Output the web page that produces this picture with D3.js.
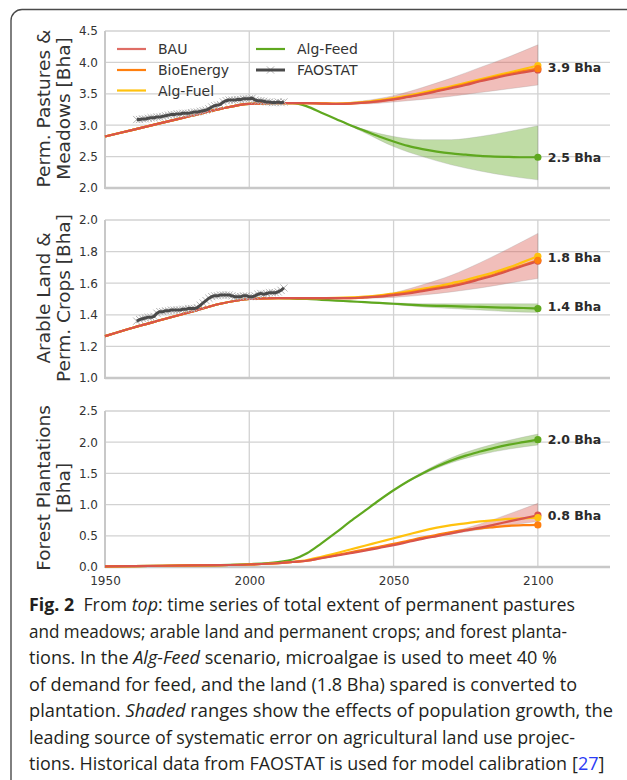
<!DOCTYPE html>
<html><head><meta charset="utf-8">
<script src="https://cdn.jsdelivr.net/npm/d3@7/dist/d3.min.js"></script>
<style>body{margin:0;background:#fff}svg{display:block}</style>
</head><body>
<svg id="c" width="627" height="780"></svg>
<script>
// ---------------- DATA ----------------
const modelYears = [1950,1960,1970,1980,1990,2000,2010,2015,2020,2025,2030,2035,2040,2045,2050,2055,2060,2065,2070,2075,2080,2085,2090,2095,2100];
const bandYears = [2030,2040,2050,2060,2070,2080,2090,2100];
const faoYears = d3.range(1961, 2013);

// Panel 1: permanent pastures & meadows
const p1BAU   = [2.82,2.93,3.04,3.15,3.26,3.34,3.35,3.35,3.35,3.345,3.34,3.345,3.36,3.38,3.41,3.45,3.49,3.54,3.59,3.64,3.70,3.75,3.80,3.84,3.88];
const p1Bio   = [2.82,2.93,3.04,3.15,3.26,3.34,3.35,3.35,3.35,3.345,3.34,3.345,3.36,3.385,3.415,3.455,3.50,3.55,3.60,3.655,3.71,3.765,3.815,3.86,3.90];
const p1Fuel  = [2.82,2.93,3.04,3.15,3.26,3.34,3.35,3.35,3.35,3.35,3.345,3.35,3.37,3.40,3.43,3.47,3.52,3.57,3.62,3.675,3.73,3.785,3.84,3.895,3.95];
const p1Feed  = [2.82,2.93,3.04,3.15,3.26,3.34,3.35,3.35,3.30,3.20,3.10,3.00,2.91,2.82,2.74,2.67,2.62,2.58,2.55,2.53,2.51,2.50,2.495,2.49,2.49];
const p1BauHi = [3.345,3.39,3.47,3.60,3.75,3.92,4.09,4.28];
const p1BauLo = [3.34,3.34,3.37,3.41,3.46,3.52,3.58,3.64];
const p1FeedHi = [3.10,2.93,2.82,2.77,2.77,2.82,2.90,2.99];
const p1FeedLo = [3.10,2.88,2.66,2.50,2.37,2.27,2.19,2.13];
const p1Fao = [3.09,3.09,3.10,3.10,3.11,3.12,3.12,3.13,3.13,3.14,3.15,3.16,3.17,3.17,3.18,3.18,3.19,3.19,3.19,3.20,3.21,3.21,3.22,3.23,3.24,3.26,3.29,3.31,3.32,3.33,3.37,3.39,3.40,3.40,3.40,3.41,3.41,3.42,3.42,3.42,3.43,3.40,3.39,3.39,3.38,3.37,3.37,3.36,3.36,3.37,3.36,3.37];

// Panel 2: arable land & permanent crops
const p2BAU   = [1.265,1.32,1.37,1.42,1.47,1.50,1.505,1.505,1.505,1.505,1.505,1.505,1.51,1.515,1.525,1.535,1.55,1.565,1.58,1.60,1.625,1.65,1.68,1.71,1.74];
const p2Bio   = [1.265,1.32,1.37,1.42,1.47,1.50,1.505,1.505,1.505,1.505,1.505,1.505,1.51,1.518,1.53,1.54,1.555,1.57,1.585,1.605,1.63,1.655,1.685,1.715,1.745];
const p2Fuel  = [1.265,1.32,1.37,1.42,1.47,1.50,1.505,1.505,1.505,1.506,1.507,1.51,1.515,1.523,1.535,1.548,1.565,1.58,1.60,1.62,1.645,1.67,1.70,1.735,1.77];
const p2Feed  = [1.265,1.32,1.37,1.42,1.47,1.50,1.505,1.503,1.50,1.495,1.49,1.485,1.48,1.475,1.47,1.465,1.46,1.457,1.455,1.452,1.45,1.447,1.445,1.443,1.44];
const p2BauHi = [1.505,1.515,1.54,1.59,1.65,1.73,1.82,1.915];
const p2BauLo = [1.50,1.505,1.51,1.525,1.545,1.57,1.60,1.63];
const p2FeedHi = [1.49,1.48,1.475,1.47,1.47,1.47,1.47,1.47];
const p2FeedLo = [1.49,1.48,1.465,1.45,1.44,1.43,1.42,1.415];
const p2Fao = [1.36,1.37,1.375,1.38,1.385,1.385,1.39,1.41,1.42,1.42,1.425,1.425,1.43,1.43,1.43,1.43,1.435,1.435,1.44,1.44,1.44,1.445,1.46,1.475,1.49,1.505,1.515,1.52,1.52,1.525,1.525,1.525,1.525,1.52,1.515,1.515,1.515,1.52,1.52,1.515,1.515,1.52,1.53,1.535,1.53,1.535,1.54,1.54,1.54,1.545,1.555,1.57];

// Panel 3: forest plantations
const p3BAU   = [0.01,0.015,0.02,0.025,0.03,0.04,0.06,0.08,0.10,0.14,0.18,0.22,0.26,0.305,0.35,0.40,0.45,0.495,0.54,0.585,0.63,0.68,0.73,0.78,0.83];
const p3Bio   = [0.01,0.015,0.02,0.025,0.03,0.04,0.06,0.08,0.10,0.145,0.19,0.235,0.28,0.325,0.37,0.42,0.47,0.515,0.56,0.595,0.62,0.64,0.66,0.67,0.675];
const p3Fuel  = [0.01,0.015,0.02,0.025,0.03,0.04,0.06,0.08,0.11,0.165,0.22,0.28,0.34,0.40,0.46,0.52,0.58,0.63,0.67,0.70,0.73,0.75,0.77,0.78,0.79];
const p3Feed  = [0.01,0.015,0.02,0.025,0.03,0.045,0.08,0.12,0.22,0.38,0.55,0.73,0.90,1.07,1.23,1.375,1.50,1.61,1.705,1.785,1.85,1.91,1.96,2.00,2.04];
const p3BauHi = [0.18,0.26,0.35,0.45,0.56,0.69,0.85,1.02];
const p3BauLo = [0.18,0.26,0.35,0.45,0.53,0.60,0.67,0.73];
const p3FeedHi = [0.55,0.90,1.23,1.52,1.75,1.91,2.03,2.13];
const p3FeedLo = [0.55,0.90,1.23,1.48,1.67,1.80,1.89,1.955];

const xTicks = [1950,2000,2050,2100];
const p1Ticks = [2.0,2.5,3.0,3.5,4.0,4.5];
const p2Ticks = [1.0,1.2,1.4,1.6,1.8,2.0];
const p3Ticks = [0.0,0.5,1.0,1.5,2.0,2.5];
const p1Labels = [{v:3.92,t:"3.9 Bha"},{v:2.49,t:"2.5 Bha"}];
const p2Labels = [{v:1.76,t:"1.8 Bha"},{v:1.45,t:"1.4 Bha"}];
const p3Labels = [{v:2.05,t:"2.0 Bha"},{v:0.833,t:"0.8 Bha"}];
const yTitles = [["Perm. Pastures &","Meadows [Bha]"],["Arable Land &","Perm. Crops [Bha]"],["Forest Plantations","[Bha]"]];
const seriesNames = ["BAU","BioEnergy","Alg-Fuel","Alg-Feed","FAOSTAT"];
const colors = {"BAU":"#d9544a","BioEnergy":"#ff7f0e","Alg-Fuel":"#ffc20e","Alg-Feed":"#5fa81f","FAOSTAT":"#4a4a4a"};

// ---------------- DRAW ----------------
const svg = d3.select("#c");
const L = 105, R = 610;
const x = d3.scaleLinear().domain([1950,2125]).range([L,R]);
const chartFont = "DejaVu Sans, sans-serif";

// frame
svg.append("rect").attr("x",11).attr("y",9.5).attr("width",700).attr("height",900).attr("rx",11)
  .attr("fill","none").attr("stroke","#4a4a4a").attr("stroke-width",1.4);

const panels = [
  {top:31,bottom:188,dom:[2.0,4.5],ticks:p1Ticks,fmt:d3.format(".1f"),
   series:{"BAU":p1BAU,"BioEnergy":p1Bio,"Alg-Fuel":p1Fuel,"Alg-Feed":p1Feed},
   bands:[["BAU",p1BauLo,p1BauHi],["Alg-Feed",p1FeedLo,p1FeedHi]],fao:p1Fao,labels:p1Labels,title:yTitles[0],legend:true},
  {top:220,bottom:378,dom:[1.0,2.0],ticks:p2Ticks,fmt:d3.format(".1f"),
   series:{"BAU":p2BAU,"BioEnergy":p2Bio,"Alg-Fuel":p2Fuel,"Alg-Feed":p2Feed},
   bands:[["BAU",p2BauLo,p2BauHi],["Alg-Feed",p2FeedLo,p2FeedHi]],fao:p2Fao,labels:p2Labels,title:yTitles[1]},
  {top:411,bottom:567,dom:[0.0,2.5],ticks:p3Ticks,fmt:d3.format(".1f"),
   series:{"BAU":p3BAU,"BioEnergy":p3Bio,"Alg-Fuel":p3Fuel,"Alg-Feed":p3Feed},
   bands:[["BAU",p3BauLo,p3BauHi],["Alg-Feed",p3FeedLo,p3FeedHi]],fao:null,labels:p3Labels,title:yTitles[2],xaxis:true}
];

panels.forEach((p,pi)=>{
  const y = d3.scaleLinear().domain(p.dom).range([p.bottom,p.top]);
  const g = svg.append("g");
  // grid
  g.selectAll(".hg").data(p.ticks).join("line")
    .attr("x1",L).attr("x2",R).attr("y1",d=>y(d)).attr("y2",d=>y(d))
    .attr("stroke","#d2d2d2").attr("stroke-width",1.3);
  g.selectAll(".vg").data(xTicks.slice(1)).join("line")
    .attr("x1",d=>x(d)).attr("x2",d=>x(d)).attr("y1",p.top).attr("y2",p.bottom)
    .attr("stroke","#d2d2d2").attr("stroke-width",1.3);
  // spines
  g.append("line").attr("x1",L).attr("x2",L).attr("y1",p.top).attr("y2",p.bottom+1).attr("stroke","#c8c8c8").attr("stroke-width",2);
  g.append("line").attr("x1",L).attr("x2",R).attr("y1",p.bottom).attr("y2",p.bottom).attr("stroke","#c8c8c8").attr("stroke-width",2.5);
  // y tick labels via axis
  const ya = d3.axisLeft(y).tickValues(p.ticks).tickFormat(p.fmt).tickSize(0).tickPadding(7);
  const ag = g.append("g").attr("transform",`translate(${L},0)`).call(ya);
  ag.select(".domain").remove();
  ag.attr("font-family",chartFont).attr("font-size",12);
  ag.selectAll("text").attr("fill","#333");
  if(p.xaxis){
    const xa = d3.axisBottom(x).tickValues(xTicks).tickFormat(d3.format("d")).tickSize(0).tickPadding(9);
    const xg = g.append("g").attr("transform",`translate(0,${p.bottom})`).call(xa);
    xg.select(".domain").remove();
    xg.attr("font-family",chartFont).attr("font-size",12);
    xg.selectAll("text").attr("fill","#333");
  }
  // y title
  const cy = (p.top+p.bottom)/2 - 1;
  p.title.forEach((t,i)=>{
    g.append("text").attr("transform",`translate(${43+i*20},${cy}) rotate(-90)`)
      .attr("text-anchor","middle").attr("dominant-baseline","central")
      .attr("font-family",chartFont).attr("font-size",18.5).attr("fill","#333").text(t);
  });
  // bands
  const area = d3.area().x((d,i)=>x(bandYears[i])).y0(d=>y(d[0])).y1(d=>y(d[1])).curve(d3.curveMonotoneX);
  p.bands.forEach(([name,lo,hi])=>{
    g.append("path").datum(lo.map((v,i)=>[v,hi[i]])).attr("d",area)
      .attr("fill",colors[name]).attr("fill-opacity",name==="BAU"?0.38:0.4)
      .attr("stroke","#999").attr("stroke-opacity",0.35).attr("stroke-width",0.8);
  });
  // model lines
  const line = d3.line().x((d,i)=>x(modelYears[i])).y(d=>y(d)).curve(d3.curveMonotoneX);
  ["Alg-Feed","Alg-Fuel","BioEnergy","BAU"].forEach(name=>{
    g.append("path").datum(p.series[name]).attr("d",line)
      .attr("fill","none").attr("stroke",colors[name]).attr("stroke-width",2.2);
  });
  // FAOSTAT
  if(p.fao){
    const fl = d3.line().x((d,i)=>x(faoYears[i])).y(d=>y(d));
    const mk = g.append("g");
    p.fao.forEach((v,i)=>{
      const cx=x(faoYears[i]), cyy=y(v), s=3.6;
      mk.append("path").attr("d",`M${cx-s},${cyy-s}L${cx+s},${cyy+s}M${cx-s},${cyy+s}L${cx+s},${cyy-s}`)
        .attr("stroke","#b4b4b4").attr("stroke-width",1);
    });
    g.append("path").datum(p.fao).attr("d",fl).attr("fill","none").attr("stroke",colors.FAOSTAT).attr("stroke-width",3);
  }
  // end dots
  ["BAU","Alg-Feed","Alg-Fuel","BioEnergy"].forEach(name=>{
    const arr=p.series[name];
    g.append("circle").attr("cx",x(modelYears[modelYears.length-1])).attr("cy",y(arr[arr.length-1]))
      .attr("r",3.6).attr("fill",colors[name]);
  });
  // end labels
  p.labels.forEach(l=>{
    g.append("text").attr("x",x(2100)+10).attr("y",y(l.v)).attr("dominant-baseline","central")
      .attr("font-family",chartFont).attr("font-weight","bold").attr("font-size",12.5).attr("fill","#2b2b2b").text(l.t);
  });
  // legend
  if(p.legend){
    const items=[["BAU",117,49],["BioEnergy",117,70],["Alg-Fuel",117,90.5],["Alg-Feed",256,49],["FAOSTAT",256,70]];
    items.forEach(([name,lx,ly])=>{
      const lg=g.append("g");
      if(name==="FAOSTAT"){
        const s=3.6, cx=lx+14.5;
        lg.append("path").attr("d",`M${cx-s},${ly-s}L${cx+s},${ly+s}M${cx-s},${ly+s}L${cx+s},${ly-s}`).attr("stroke","#b4b4b4").attr("stroke-width",1);
      }
      lg.append("line").attr("x1",lx).attr("x2",lx+29).attr("y1",ly).attr("y2",ly)
        .attr("stroke",colors[name]).attr("stroke-width",name==="FAOSTAT"?3:2.2).attr("stroke-opacity",name==="BAU"?0.85:1);
      lg.append("text").attr("x",lx+41).attr("y",ly).attr("dominant-baseline","central")
        .attr("font-family",chartFont).attr("font-size",14).attr("fill","#333").text(name);
    });
  }
});

// ---------------- CAPTION ----------------
const capFont = "'Liberation Sans Narrow','Open Sans',sans-serif";
const capLines = [
  {w:546, parts:[["Fig. 2","b"],["  From ",""],["top","i"],[": time series of total extent of permanent pastures",""]]},
  {w:538, parts:[["and meadows; arable land and permanent crops; and forest planta-",""]]},
  {w:528, parts:[["tions. In the ",""],["Alg-Feed","i"],[" scenario, microalgae is used to meet 40 %",""]]},
  {w:548, parts:[["of demand for feed, and the land (1.8 Bha) spared is converted to",""]]},
  {w:584, parts:[["plantation. ",""],["Shaded","i"],[" ranges show the effects of population growth, the",""]]},
  {w:546, parts:[["leading source of systematic error on agricultural land use projec-",""]]},
  {w:538, parts:[["tions. Historical data from FAOSTAT is used for model calibration",""]]}
];
capLines.forEach((ln,i)=>{
  const t = svg.append("text").attr("x",29).attr("y",611+i*26.5)
    .attr("font-family",capFont).attr("font-size",18).attr("fill","#231f20")
    .attr("textLength",ln.w).attr("lengthAdjust","spacingAndGlyphs").attr("xml:space","preserve");
  ln.parts.forEach(([s,st])=>{
    const ts=t.append("tspan").text(s);
    if(st==="b") ts.attr("font-weight","bold");
    if(st==="i") ts.attr("font-style","italic");
  });
});
// citation reference
const ref = svg.append("text").attr("x",572).attr("y",611+6*26.5)
  .attr("font-family",capFont).attr("font-size",18).attr("fill","#231f20");
ref.append("tspan").text("[");
ref.append("tspan").attr("fill","#2b3cf5").text("27");
ref.append("tspan").text("]");
</script>
</body></html>
